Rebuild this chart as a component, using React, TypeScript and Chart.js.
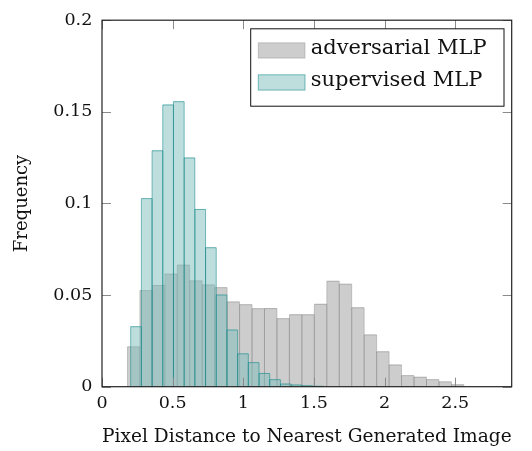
import { useEffect, useRef } from 'react';
import { Chart, registerables } from 'chart.js';

Chart.register(...registerables);

// Bin centres (pixel distance) and frequencies for each histogram
const advCenters = [
  0.2241, 0.3123, 0.4005, 0.4887, 0.5769, 0.6651, 0.7533, 0.8415, 0.9297,
  1.0179, 1.1061, 1.1943, 1.2825, 1.3707, 1.4589, 1.5471, 1.6353, 1.7235,
  1.8117, 1.8999, 1.9881, 2.0763, 2.1645, 2.2527, 2.3409, 2.4291, 2.5173,
];
const advFreq = [
  0.022, 0.0527, 0.0555, 0.0617, 0.0666, 0.058, 0.0558, 0.0543, 0.0465,
  0.045, 0.0428, 0.0429, 0.0374, 0.0395, 0.0395, 0.0452, 0.0578, 0.0562,
  0.0433, 0.0285, 0.0193, 0.0121, 0.0063, 0.0054, 0.0041, 0.0029, 0.0013,
];
const supCenters = [
  0.2409, 0.3166, 0.3923, 0.468, 0.5437, 0.6194, 0.6951, 0.7708, 0.8465,
  0.9222, 0.9979, 1.0736, 1.1493, 1.225, 1.3007, 1.3764, 1.4521, 1.5278,
];
const supFreq = [
  0.033, 0.1029, 0.129, 0.154, 0.1558, 0.1251, 0.097, 0.0761, 0.0503,
  0.0312, 0.0182, 0.0134, 0.0075, 0.0041, 0.0017, 0.0012, 0.0008, 0.0005,
];
const xTicks = [0, 0.5, 1, 1.5, 2, 2.5];
const yTicks = [0, 0.05, 0.1, 0.15, 0.2];
const seriesLabels = ['adversarial MLP', 'supervised MLP'];
const xTitle = 'Pixel Distance to Nearest Generated Image';
const yTitle = 'Frequency';

const FONT = "'DejaVu Serif', 'Liberation Serif', serif";
const GRAY_FILL = 'rgba(155,155,155,0.5)';
const GRAY_EDGE = 'rgba(120,120,120,0.35)';
const TEAL_FILL = 'rgba(125,189,189,0.5)';
const TEAL_EDGE = 'rgba(0,128,128,0.5)';
const EDGES = [GRAY_EDGE, TEAL_EDGE];

const framePlugin = {
  id: 'frameTicks',
  afterDatasetDraw(chart: any, args: any) {
    const { ctx } = chart;
    const meta = args.meta;
    ctx.save();
    ctx.strokeStyle = EDGES[args.index];
    ctx.lineWidth = 1;
    meta.data.forEach((el: any) => {
      const p = el.getProps(['x', 'y', 'base', 'width'], true);
      const l = p.x - p.width / 2;
      const r = p.x + p.width / 2;
      ctx.beginPath();
      ctx.moveTo(l, p.base);
      ctx.lineTo(l, p.y + 0.5);
      ctx.lineTo(r, p.y + 0.5);
      ctx.lineTo(r, p.base);
      ctx.stroke();
    });
    ctx.restore();
  },
  afterDatasetsDraw(chart: any) {
    const { ctx, chartArea } = chart;
    const xs = chart.scales.x;
    const ys = chart.scales.y;
    const L = 9;
    ctx.save();
    ctx.strokeStyle = '#8a8a8a';
    ctx.lineWidth = 1;
    ctx.beginPath();
    xTicks.forEach((v) => {
      const px = Math.round(xs.getPixelForValue(v)) + 0.5;
      ctx.moveTo(px, chartArea.bottom);
      ctx.lineTo(px, chartArea.bottom - L);
      ctx.moveTo(px, chartArea.top);
      ctx.lineTo(px, chartArea.top + L);
    });
    yTicks.forEach((v) => {
      const py = Math.round(ys.getPixelForValue(v)) + 0.5;
      ctx.moveTo(chartArea.left, py);
      ctx.lineTo(chartArea.left + L, py);
      ctx.moveTo(chartArea.right, py);
      ctx.lineTo(chartArea.right - L, py);
    });
    ctx.stroke();
    ctx.strokeStyle = '#222';
    ctx.lineWidth = 1.2;
    ctx.strokeRect(chartArea.left, chartArea.top, chartArea.right - chartArea.left, chartArea.bottom - chartArea.top);
    ctx.restore();
  },
  afterDraw(chart: any) {
    const { ctx, chartArea } = chart;
    const w = 253.3;
    const h = 77.4;
    const bx = chartArea.right - 7.7 - w;
    const by = chartArea.top + 8.6;
    ctx.save();
    ctx.fillStyle = '#fff';
    ctx.fillRect(bx, by, w, h);
    ctx.strokeStyle = '#111';
    ctx.lineWidth = 1;
    ctx.strokeRect(bx, by, w, h);
    const rows = [
      { fill: GRAY_FILL, edge: GRAY_EDGE, label: seriesLabels[0] },
      { fill: TEAL_FILL, edge: TEAL_EDGE, label: seriesLabels[1] },
    ];
    rows.forEach((r, i) => {
      const sy = by + 14 + i * 32;
      ctx.fillStyle = r.fill;
      ctx.fillRect(bx + 7.6, sy, 46.7, 15.3);
      ctx.strokeStyle = r.edge;
      ctx.lineWidth = 1;
      ctx.strokeRect(bx + 7.6, sy, 46.7, 15.3);
      ctx.fillStyle = '#111';
      ctx.font = `21px ${FONT}`;
      ctx.textBaseline = 'alphabetic';
      ctx.textAlign = 'left';
      ctx.fillText(r.label, bx + 60, by + 25.4 + i * 32);
    });
    ctx.restore();
  },
};

export default function App() {
  const ref = useRef<HTMLCanvasElement>(null);
  useEffect(() => {
    if (!ref.current) return;
    const barCommon = {
      barPercentage: 1,
      categoryPercentage: 1,
      grouped: false,
      inflateAmount: 0,
      borderWidth: 0,
    };
    const chart = new Chart(ref.current, {
      type: 'bar',
      data: {
        datasets: [
          {
            ...barCommon,
            label: seriesLabels[0],
            data: advCenters.map((x, i) => ({ x, y: advFreq[i] })),
            backgroundColor: GRAY_FILL,
            xAxisID: 'x',
            order: 1,
          } as any,
          {
            ...barCommon,
            label: seriesLabels[1],
            data: supCenters.map((x, i) => ({ x, y: supFreq[i] })),
            backgroundColor: TEAL_FILL,
            xAxisID: 'x2',
            order: 0,
          } as any,
        ],
      },
      options: {
        animation: false,
        responsive: false,
        devicePixelRatio: 1,
        layout: { padding: { top: 14.7, right: 20.3, left: 0, bottom: 0 } },
        plugins: {
          legend: { display: false },
          tooltip: { enabled: false },
        },
        scales: {
          x: {
            type: 'linear',
            min: 0,
            max: 2.9,
            offset: false,
            grid: { display: false, drawTicks: false },
            border: { display: false },
            afterBuildTicks: (s: any) => {
              s.ticks = xTicks.map((v) => ({ value: v }));
            },
            afterFit: (s: any) => {
              s.height = 64.3;
            },
            ticks: {
              padding: 6.5,
              color: '#111',
              font: { family: FONT, size: 17.5 },
              maxRotation: 0,
              callback: (v: any) => String(v),
            },
            title: {
              display: true,
              text: xTitle,
              color: '#111',
              font: { family: FONT, size: 19.2 },
              padding: { top: 0, bottom: 2 },
            },
          },
          x2: {
            type: 'linear',
            min: 0,
            max: 2.9,
            offset: false,
            display: false,
          },
          y: {
            type: 'linear',
            min: 0,
            max: 0.2,
            grid: { display: false, drawTicks: false },
            border: { display: false },
            afterBuildTicks: (s: any) => {
              s.ticks = yTicks.map((v) => ({ value: v }));
            },
            afterFit: (s: any) => {
              s.width = 102;
            },
            ticks: {
              padding: 9.7,
              color: '#111',
              font: { family: FONT, size: 17.5 },
              callback: (v: any) => String(v),
            },
            title: {
              display: true,
              text: yTitle,
              color: '#111',
              font: { family: FONT, size: 18 },
              padding: { top: 12, bottom: 0 },
            },
          },
        },
      } as any,
      plugins: [framePlugin],
    });
    return () => chart.destroy();
  }, []);
  return (
    <div style={{ position: 'absolute', left: 0, top: 0, width: 532, height: 451 }}>
      <canvas ref={ref} width={532} height={451} style={{ display: 'block' }} />
    </div>
  );
}
